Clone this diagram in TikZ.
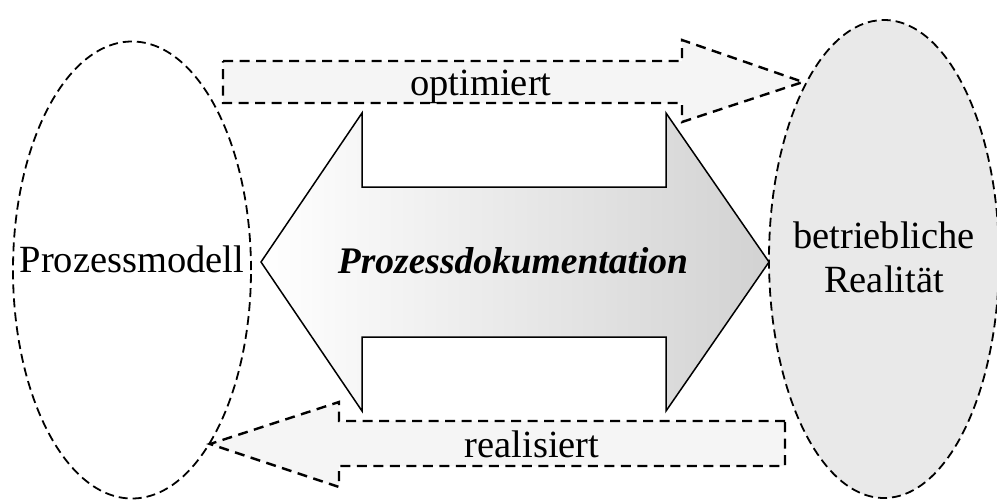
\documentclass[tikz,border=0pt]{standalone}
\usepackage{fontspec}
\setmainfont{Liberation Serif}
\usetikzlibrary{shapes.geometric}
\definecolor{boxfill}{HTML}{F5F5F5}
\definecolor{realfill}{HTML}{E9E9E9}
\definecolor{docright}{HTML}{D2D2D2}

\begin{document}
\begin{tikzpicture}[x=1pt,y=-1pt,
  bubble/.style={ellipse, draw, line width=1.8pt, dash pattern=on 9pt off 5pt, inner sep=0pt},
  flowarrow/.style={draw, line width=2.4pt, dash pattern=on 10pt off 6.5pt, fill=boxfill, line join=miter},
  docarrow/.style={draw, line width=1.5pt, left color=white, right color=docright, line join=miter},
  txt/.style={font=\fontsize{38.5}{44}\selectfont, inner sep=0pt, anchor=base, align=center}]
\useasboundingbox (0,0) rectangle (997,501);
\fill[white] (0,0) rectangle (997,501);

% the two domains
\node[bubble, minimum width=238pt, minimum height=457pt] (model) at (132,270) {};
\node[bubble, fill=realfill, minimum width=230pt, minimum height=478pt] (real) at (884,259) {};
\node[txt] (modeltext) at (132,272) {Prozessmodell};
\node[txt] (realtext1) at (884,248) {betriebliche};
\node[txt] (realtext2) at (884,292) {Realität};

% documentation as a double arrow between the domains
\coordinate (docL) at (261,262);
\coordinate (docR) at (769,262);
\draw[docarrow] (docL) -- (362,113) -- (362,187) -- (666,187) -- (666,113)
  -- (docR) -- (666,411) -- (666,337) -- (362,337) -- (362,411) -- cycle;
\node[txt, font=\fontsize{37.5}{44}\selectfont\bfseries\itshape] (doctext) at (513,273) {Prozessdokumentation};

% model optimises reality
\coordinate (optTip) at (803,82);
\draw[flowarrow] (223,61) -- (682,61) -- (682,40) -- (optTip) -- (682,122)
  -- (682,103) -- (223,103) -- cycle;
\node[txt] (opttext) at (481,95) {optimiert};

% reality realises the model
\coordinate (realTip) at (210,444);
\draw[flowarrow] (785,421) -- (339,421) -- (339,402) -- (realTip) -- (339,487)
  -- (339,466) -- (785,466) -- cycle;
\node[txt] (realtext) at (532,457) {realisiert};
\end{tikzpicture}
\end{document}
